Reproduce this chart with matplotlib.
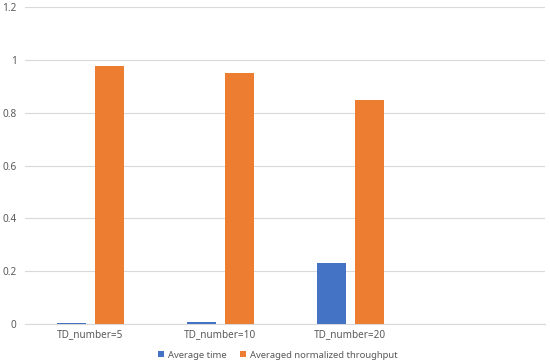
import matplotlib
matplotlib.use("Agg")
import matplotlib.pyplot as plt
import numpy as np

categories = ["TD_number=5", "TD_number=10", "TD_number=20", ""]
avg_time = [0.004, 0.009, 0.23, np.nan]
avg_throughput = [0.975, 0.952, 0.848, np.nan]
series_names = ["Average time", "Averaged normalized throughput"]

plt.rcParams['font.family'] = ['Noto Sans', 'DejaVu Sans']
fig = plt.figure(figsize=(5.5, 3.63), dpi=100)
ax = fig.add_axes([0.0455, 0.1074, 0.9455, 0.8733])

x = np.arange(len(categories))
w = 0.223
off = 0.146
ax.bar(x - off, avg_time, w, color="#4472C4", label=series_names[0], zorder=3)
ax.bar(x + off, avg_throughput, w, color="#ED7D31", label=series_names[1], zorder=3)

ax.set_xlim(-0.5, len(categories) - 0.5)
ax.set_ylim(0, 1.2)
ax.set_yticks(np.arange(0, 1.21, 0.2))
ax.set_yticklabels(["0", "0.2", "0.4", "0.6", "0.8", "1", "1.2"])
ax.set_xticks(x)
ax.set_xticklabels(categories)
ax.grid(axis="y", color="#D9D9D9", linewidth=0.8, zorder=0)
for s in ["top", "right", "left"]:
    ax.spines[s].set_visible(False)
ax.spines["bottom"].set_color("#D9D9D9")
ax.tick_params(axis="both", length=0, colors="#595959", labelsize=7.2)
ax.tick_params(axis="y", pad=6)
ax.tick_params(axis="x", pad=4)

leg = fig.legend(loc="center", bbox_to_anchor=(0.505, 0.022), ncol=2, frameon=False,
                 fontsize=6.8, handlelength=0.6, handleheight=0.6, handletextpad=0.4,
                 columnspacing=1.5)
for t in leg.get_texts():
    t.set_color("#595959")

fig.savefig("out.png", dpi=100)
